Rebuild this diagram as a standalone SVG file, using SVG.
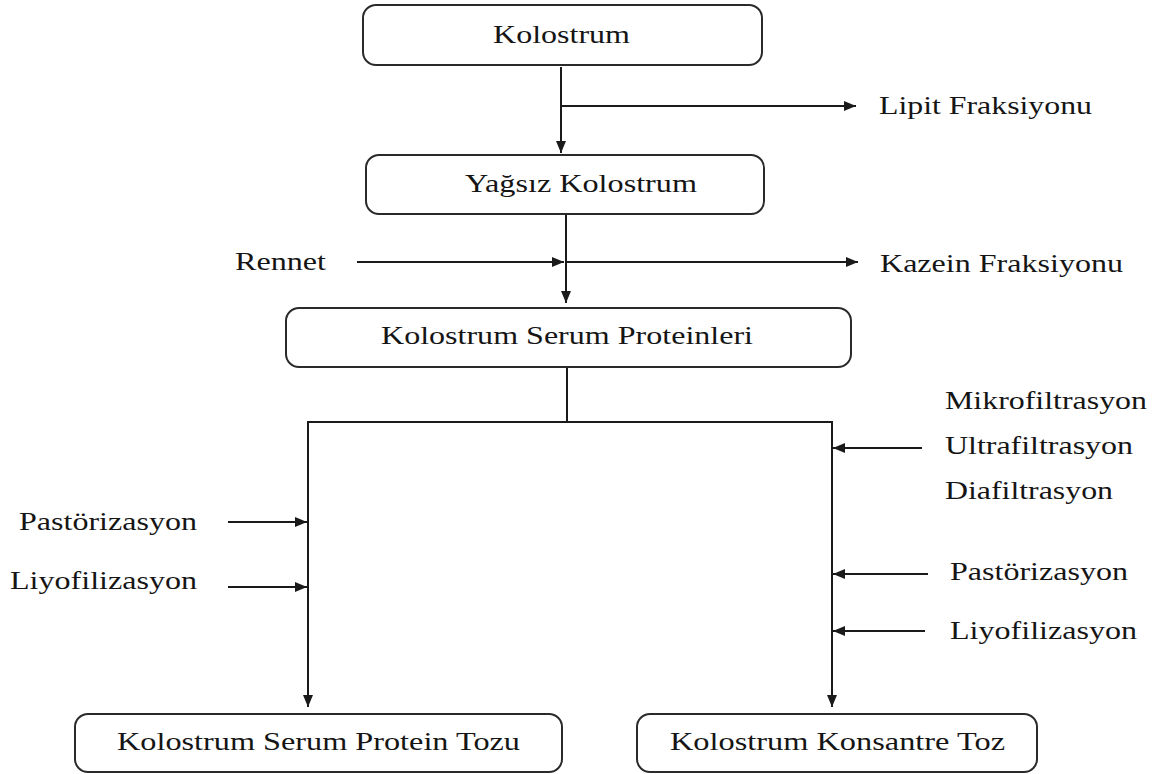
<svg xmlns="http://www.w3.org/2000/svg" width="1153" height="774" viewBox="0 0 1153 774">
<defs>
<marker id="ah" markerUnits="userSpaceOnUse" markerWidth="13" markerHeight="11" refX="12" refY="5.5" orient="auto">
<path d="M0,0.5 L12,5.5 L0,10.5 z" fill="#1a1a1a"/>
</marker>
<style>
.box{fill:#fff;stroke:#2a2a2a;stroke-width:2}
.lbl{font-family:"Liberation Serif","Times New Roman",serif;font-size:26px;fill:#151515}
.ln{fill:none;stroke:#1a1a1a;stroke-width:2}
.ar{marker-end:url(#ah)}
</style>
</defs>
<rect width="1153" height="774" fill="#fff"/>
<g id="connectors">
<path class="ln ar" d="M561,67 V153"/>
<path class="ln ar" d="M561,106 H856"/>
<path class="ln ar" d="M566,215 V303"/>
<path class="ln ar" d="M357,262 H564"/>
<path class="ln ar" d="M566,262 H858"/>
<path class="ln" d="M567,368 V422"/>
<path class="ln" d="M307,422 H833"/>
<path class="ln ar" d="M308,422 V707"/>
<path class="ln ar" d="M832,422 V707"/>
<path class="ln ar" d="M228,522 H307"/>
<path class="ln ar" d="M228,587 H307"/>
<path class="ln ar" d="M922,448 H833"/>
<path class="ln ar" d="M928,574 H833"/>
<path class="ln ar" d="M925,631 H833"/>
</g>
<g id="n1"><rect class="box" x="363" y="5" width="399" height="60" rx="13"/><text class="lbl" x="493" y="43" textLength="137" lengthAdjust="spacingAndGlyphs">Kolostrum</text></g>
<g id="n2"><rect class="box" x="366" y="155" width="398" height="59" rx="13"/><text class="lbl" x="465" y="192" textLength="232" lengthAdjust="spacingAndGlyphs">Yağsız Kolostrum</text></g>
<g id="n3"><rect class="box" x="286" y="308" width="565" height="59" rx="13"/><text class="lbl" x="381" y="344" textLength="372" lengthAdjust="spacingAndGlyphs">Kolostrum Serum Proteinleri</text></g>
<g id="n4"><rect class="box" x="75" y="714" width="487" height="58" rx="13"/><text class="lbl" x="117" y="750" textLength="403" lengthAdjust="spacingAndGlyphs">Kolostrum Serum Protein Tozu</text></g>
<g id="n5"><rect class="box" x="637" y="714" width="400" height="58" rx="13"/><text class="lbl" x="670" y="750" textLength="335" lengthAdjust="spacingAndGlyphs">Kolostrum Konsantre Toz</text></g>
<g id="labels">
<text class="lbl" x="879" y="114" textLength="213" lengthAdjust="spacingAndGlyphs">Lipit Fraksiyonu</text>
<text class="lbl" x="235" y="270" textLength="91" lengthAdjust="spacingAndGlyphs">Rennet</text>
<text class="lbl" x="880" y="272" textLength="243" lengthAdjust="spacingAndGlyphs">Kazein Fraksiyonu</text>
<text class="lbl" x="945" y="409" textLength="202" lengthAdjust="spacingAndGlyphs">Mikrofiltrasyon</text>
<text class="lbl" x="945" y="454" textLength="188" lengthAdjust="spacingAndGlyphs">Ultrafiltrasyon</text>
<text class="lbl" x="945" y="499" textLength="168" lengthAdjust="spacingAndGlyphs">Diafiltrasyon</text>
<text class="lbl" x="19" y="530" textLength="178" lengthAdjust="spacingAndGlyphs">Pastörizasyon</text>
<text class="lbl" x="10" y="589" textLength="187" lengthAdjust="spacingAndGlyphs">Liyofilizasyon</text>
<text class="lbl" x="950" y="580" textLength="178" lengthAdjust="spacingAndGlyphs">Pastörizasyon</text>
<text class="lbl" x="950" y="639" textLength="187" lengthAdjust="spacingAndGlyphs">Liyofilizasyon</text>
</g>
</svg>
